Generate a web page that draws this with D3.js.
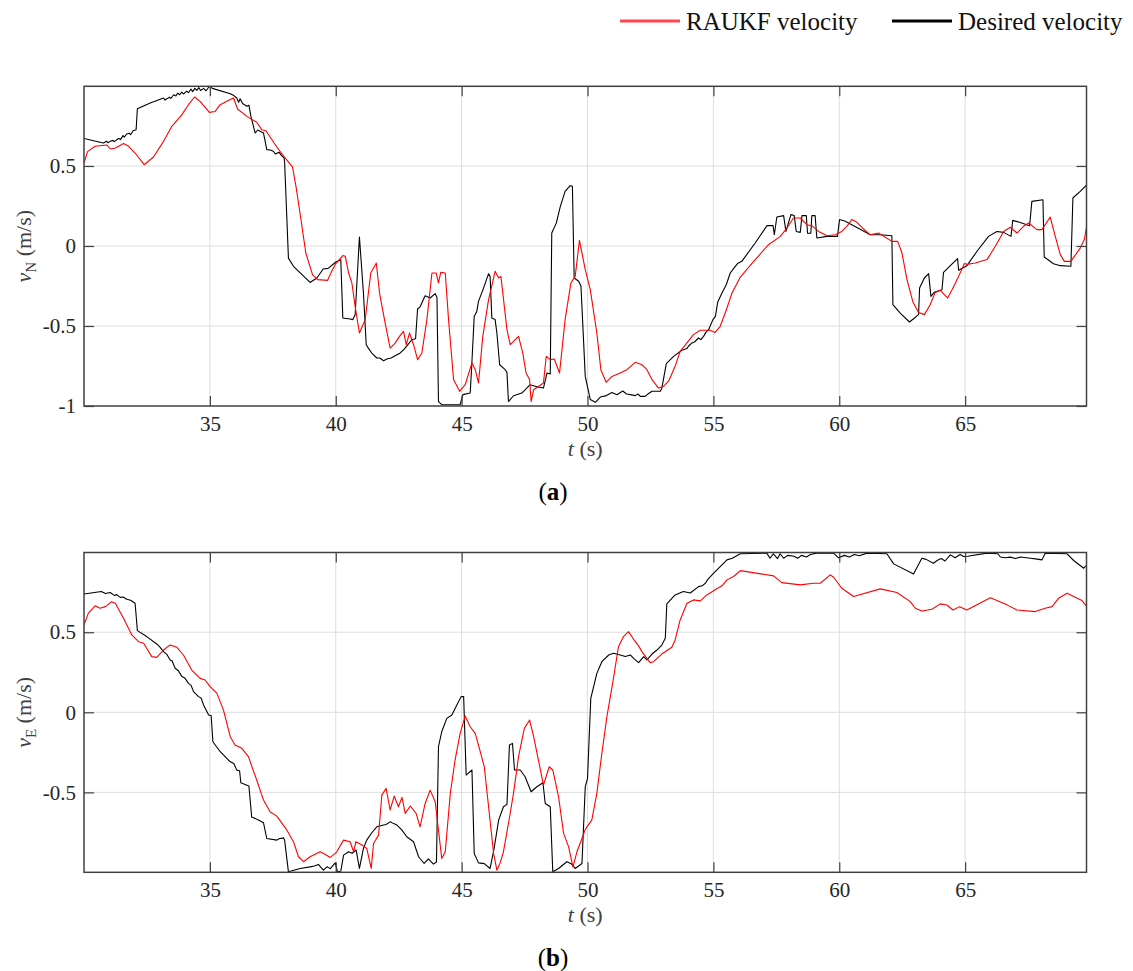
<!DOCTYPE html>
<html>
<head>
<meta charset="utf-8">
<script src="https://cdn.jsdelivr.net/npm/d3@7"></script>
<style>
  body { margin: 0; background: #fff; }
  svg { display: block; }
  svg text { font-family: "Liberation Serif", "DejaVu Serif", serif; }
</style>
</head>
<body>
<script>
// Time axis ticks shared by both panels
const timeTicks = [35, 40, 45, 50, 55, 60, 65];
const velTicks = [-1, -0.5, 0, 0.5];
const seriesNames = ["RAUKF velocity", "Desired velocity"];

// Panel (a): north velocity [t, v]
const desiredN = [[30.0,0.672],[30.77,0.644],[30.9,0.655],[30.95,0.645],[31.04,0.654],[31.15,0.66],[31.2,0.652],[31.37,0.672],[31.45,0.665],[31.55,0.69],[31.6,0.68],[31.7,0.70],[31.8,0.705],[31.85,0.695],[31.95,0.72],[32.07,0.727],[32.12,0.858],[32.63,0.894],[33.16,0.925],[33.22,0.912],[33.29,0.92],[33.4,0.93],[33.45,0.922],[33.56,0.945],[33.65,0.938],[33.72,0.955],[33.8,0.945],[33.88,0.962],[33.95,0.95],[34.08,0.968],[34.15,0.958],[34.25,0.98],[34.32,0.965],[34.4,0.985],[34.48,0.972],[34.56,0.99],[34.63,0.972],[34.75,0.985],[34.85,0.97],[34.98,0.998],[35.1,0.985],[35.81,0.952],[35.95,0.94],[36.07,0.925],[36.14,0.898],[36.2,0.92],[36.3,0.89],[36.47,0.873],[36.55,0.88],[36.63,0.81],[36.8,0.706],[36.9,0.725],[37.13,0.706],[37.26,0.602],[37.4,0.6],[37.52,0.592],[37.6,0.575],[37.66,0.58],[37.75,0.585],[37.85,0.565],[37.95,0.55],[37.97,0.519],[38.12,-0.076],[38.32,-0.127],[38.98,-0.228],[39.25,-0.2],[39.5,-0.144],[39.7,-0.14],[40.0,-0.10],[40.2,-0.086],[40.28,-0.45],[40.57,-0.456],[40.68,-0.46],[40.77,-0.43],[40.94,0.056],[41.1,-0.294],[41.21,-0.617],[41.3,-0.64],[41.43,-0.669],[41.5,-0.68],[41.63,-0.70],[41.75,-0.70],[41.9,-0.717],[42.05,-0.705],[42.2,-0.70],[42.43,-0.68],[42.55,-0.67],[42.72,-0.645],[42.85,-0.62],[43.02,-0.586],[43.17,-0.58],[43.25,-0.394],[43.35,-0.38],[43.55,-0.311],[43.75,-0.325],[43.95,-0.298],[44.02,-0.32],[44.08,-0.972],[44.21,-0.992],[44.94,-0.992],[45.05,-0.929],[45.34,-0.919],[45.4,-0.75],[45.5,-0.44],[45.6,-0.41],[45.67,-0.346],[45.87,-0.263],[46.07,-0.173],[46.13,-0.19],[46.2,-0.45],[46.33,-0.46],[46.4,-0.544],[46.51,-0.742],[46.73,-0.773],[46.8,-0.79],[46.86,-0.972],[47.06,-0.936],[47.39,-0.919],[47.72,-0.867],[47.99,-0.88],[48.25,-0.888],[48.39,-0.794],[48.52,-0.80],[48.58,0.081],[48.76,0.143],[48.92,0.248],[49.11,0.341],[49.31,0.377],[49.4,0.373],[49.47,-0.2],[49.65,-0.22],[49.74,-0.252],[49.91,-0.815],[50.11,-0.96],[50.31,-0.977],[50.51,-0.944],[50.75,-0.935],[50.97,-0.915],[51.17,-0.93],[51.4,-0.906],[51.55,-0.925],[51.7,-0.929],[51.9,-0.935],[52.0,-0.925],[52.1,-0.94],[52.29,-0.94],[52.4,-0.925],[52.56,-0.908],[52.89,-0.908],[52.95,-0.89],[53.13,-0.735],[53.42,-0.69],[53.75,-0.652],[53.95,-0.64],[54.02,-0.625],[54.15,-0.606],[54.25,-0.60],[54.41,-0.575],[54.5,-0.585],[54.61,-0.565],[54.7,-0.54],[54.81,-0.523],[54.98,-0.46],[55.08,-0.44],[55.17,-0.352],[55.34,-0.294],[55.51,-0.242],[55.67,-0.169],[55.87,-0.127],[55.96,-0.11],[56.13,-0.096],[56.66,0.019],[57.13,0.127],[57.37,0.127],[57.42,0.07],[57.52,0.181],[57.79,0.19],[57.88,0.091],[58.08,0.196],[58.21,0.19],[58.29,0.091],[58.45,0.085],[58.52,0.19],[58.69,0.19],[58.74,0.08],[58.87,0.08],[58.91,0.19],[59.04,0.19],[59.11,0.05],[59.51,0.06],[59.93,0.06],[60.01,0.165],[60.24,0.154],[61.23,0.07],[61.63,0.07],[62.09,0.064],[62.13,-0.367],[62.42,-0.419],[62.79,-0.475],[62.95,-0.455],[63.15,-0.429],[63.19,-0.262],[63.38,-0.2],[63.55,-0.173],[63.64,-0.315],[63.77,-0.29],[64.08,-0.273],[64.14,-0.165],[64.41,-0.123],[64.7,-0.079],[64.74,-0.152],[65.07,-0.123],[65.47,-0.033],[65.93,0.06],[66.26,0.091],[66.53,0.085],[66.82,0.06],[66.89,0.16],[67.16,0.148],[67.56,0.127],[67.65,0.279],[68.09,0.289],[68.14,-0.069],[68.51,-0.111],[68.78,-0.123],[69.2,-0.127],[69.28,0.30],[69.57,0.341],[69.84,0.383]];

const raukfN = [[30.0,0.518],[30.14,0.59],[30.44,0.623],[30.91,0.631],[31.04,0.606],[31.25,0.612],[31.57,0.64],[31.75,0.625],[32.03,0.581],[32.39,0.508],[32.76,0.556],[33.16,0.654],[33.49,0.748],[33.89,0.821],[34.15,0.883],[34.39,0.931],[34.61,0.904],[34.98,0.835],[35.21,0.841],[35.41,0.883],[35.81,0.915],[35.94,0.925],[36.1,0.856],[36.47,0.81],[36.86,0.773],[37.06,0.727],[37.23,0.72],[37.55,0.644],[37.88,0.571],[38.28,0.494],[38.42,0.373],[38.62,0.164],[38.81,-0.044],[39.08,-0.18],[39.28,-0.21],[39.67,-0.215],[39.87,-0.148],[40.0,-0.11],[40.28,-0.06],[40.38,-0.065],[40.51,-0.169],[40.64,-0.231],[40.77,-0.377],[40.94,-0.544],[41.17,-0.46],[41.39,-0.169],[41.61,-0.106],[41.74,-0.294],[41.96,-0.481],[42.16,-0.638],[42.36,-0.607],[42.53,-0.565],[42.69,-0.534],[42.8,-0.617],[42.93,-0.544],[43.09,-0.617],[43.25,-0.71],[43.42,-0.669],[43.62,-0.46],[43.82,-0.169],[43.99,-0.169],[44.08,-0.231],[44.17,-0.165],[44.35,-0.169],[44.48,-0.46],[44.68,-0.835],[44.92,-0.908],[45.14,-0.867],[45.41,-0.731],[45.54,-0.773],[45.67,-0.856],[45.84,-0.565],[46.07,-0.335],[46.33,-0.158],[46.47,-0.2],[46.56,-0.19],[46.8,-0.523],[46.93,-0.617],[47.26,-0.565],[47.43,-0.669],[47.56,-0.794],[47.7,-0.835],[47.76,-0.972],[47.86,-0.898],[48.25,-0.856],[48.36,-0.69],[48.52,-0.71],[48.68,-0.706],[48.89,-0.794],[49.11,-0.46],[49.34,-0.231],[49.51,-0.19],[49.68,0.035],[49.91,-0.148],[50.11,-0.273],[50.37,-0.544],[50.53,-0.773],[50.74,-0.852],[50.97,-0.815],[51.3,-0.794],[51.56,-0.773],[51.9,-0.727],[52.16,-0.742],[52.36,-0.773],[52.56,-0.835],[52.82,-0.888],[53.02,-0.877],[53.22,-0.845],[53.48,-0.752],[53.68,-0.658],[53.95,-0.606],[54.21,-0.554],[54.48,-0.527],[54.87,-0.527],[55.07,-0.54],[55.27,-0.502],[55.47,-0.419],[55.74,-0.294],[56.07,-0.194],[56.6,-0.096],[57.19,0.008],[57.66,0.06],[57.92,0.112],[58.18,0.175],[58.45,0.175],[58.72,0.133],[58.91,0.127],[59.18,0.091],[59.51,0.064],[59.84,0.07],[60.1,0.091],[60.3,0.123],[60.5,0.165],[60.7,0.148],[60.97,0.106],[61.23,0.07],[61.56,0.081],[62.09,0.029],[62.32,0.029],[62.49,-0.044],[62.69,-0.21],[62.93,-0.352],[63.15,-0.415],[63.38,-0.429],[63.61,-0.367],[63.81,-0.29],[64.01,-0.277],[64.3,-0.325],[64.48,-0.273],[64.74,-0.19],[64.97,-0.11],[65.08,-0.115],[65.4,-0.106],[65.87,-0.085],[66.2,-0.002],[66.53,0.091],[66.79,0.117],[67.06,0.081],[67.32,0.123],[67.52,0.144],[67.85,0.102],[68.05,0.102],[68.38,0.181],[68.58,0.06],[68.78,-0.054],[68.94,-0.096],[69.2,-0.096],[69.57,-0.013],[69.73,0.039],[69.84,0.133]];

// Panel (b): east velocity [t, v]
const desiredE = [[30.0,0.739],[30.69,0.754],[30.85,0.742],[31.04,0.748],[31.2,0.73],[31.3,0.735],[31.44,0.718],[31.55,0.72],[31.7,0.706],[31.85,0.70],[32.03,0.681],[32.12,0.51],[32.49,0.473],[32.89,0.427],[33.0,0.41],[33.16,0.379],[33.3,0.36],[33.42,0.327],[33.5,0.32],[33.62,0.275],[33.75,0.26],[33.89,0.223],[34.0,0.215],[34.15,0.181],[34.25,0.17],[34.35,0.129],[34.55,0.098],[34.65,0.09],[34.75,0.046],[34.95,-0.017],[35.05,-0.02],[35.12,-0.184],[35.41,-0.246],[35.81,-0.309],[35.95,-0.32],[36.07,-0.361],[36.18,-0.365],[36.23,-0.44],[36.47,-0.455],[36.55,-0.46],[36.66,-0.653],[36.93,-0.673],[37.13,-0.69],[37.26,-0.788],[37.66,-0.798],[37.75,-0.79],[37.93,-0.784],[37.97,-0.80],[38.12,-0.996],[38.59,-0.975],[38.98,-0.965],[39.15,-0.96],[39.31,-0.95],[39.42,-0.97],[39.51,-0.986],[39.65,-0.965],[39.78,-0.976],[39.98,-0.94],[40.07,-0.996],[40.2,-0.992],[40.31,-0.892],[40.51,-0.871],[40.65,-0.88],[40.81,-0.86],[40.94,-0.975],[41.1,-0.85],[41.23,-0.798],[41.43,-0.752],[41.63,-0.715],[41.9,-0.704],[42.0,-0.70],[42.16,-0.684],[42.3,-0.695],[42.43,-0.704],[42.63,-0.736],[42.82,-0.777],[43.09,-0.808],[43.29,-0.902],[43.51,-0.944],[43.68,-0.915],[43.88,-0.948],[44.0,-0.935],[44.08,-0.215],[44.21,-0.121],[44.41,-0.038],[44.61,-0.017],[44.81,0.045],[44.98,0.098],[45.08,0.098],[45.18,-0.392],[45.41,-0.36],[45.5,-0.881],[45.67,-0.94],[45.9,-0.945],[46.13,-0.975],[46.29,-0.85],[46.47,-0.673],[46.66,-0.59],[46.8,-0.575],[46.9,-0.204],[47.02,-0.194],[47.1,-0.36],[47.33,-0.36],[47.52,-0.402],[47.76,-0.496],[47.99,-0.465],[48.23,-0.44],[48.32,-0.569],[48.52,-0.59],[48.62,-0.996],[48.85,-0.975],[49.18,-0.933],[49.35,-0.945],[49.51,-0.975],[49.78,-0.944],[49.91,-0.465],[50.0,-0.413],[50.13,0.087],[50.37,0.243],[50.57,0.316],[50.84,0.358],[51.03,0.369],[51.3,0.358],[51.5,0.348],[51.7,0.358],[51.83,0.337],[52.03,0.31],[52.23,0.348],[52.36,0.327],[52.56,0.364],[52.76,0.389],[52.95,0.42],[53.09,0.462],[53.15,0.677],[53.48,0.733],[53.81,0.754],[54.08,0.745],[54.41,0.785],[54.55,0.79],[54.68,0.806],[54.78,0.83],[55.01,0.869],[55.27,0.91],[55.54,0.952],[55.75,0.962],[56.07,0.99],[57.12,0.994],[57.25,0.962],[57.38,0.99],[57.55,0.96],[57.65,0.99],[57.79,0.962],[57.95,0.98],[58.2,0.975],[58.35,0.962],[58.5,0.98],[58.7,0.97],[58.85,0.985],[59.11,0.994],[59.77,0.994],[59.97,0.965],[60.2,0.98],[60.4,0.97],[60.6,0.985],[60.8,0.978],[61.1,0.994],[61.89,0.99],[62.16,0.927],[62.95,0.864],[63.0,0.88],[63.28,0.962],[63.45,0.955],[63.74,0.931],[63.9,0.95],[64.05,0.96],[64.2,0.945],[64.41,0.983],[64.6,0.965],[64.8,0.985],[64.94,0.973],[65.1,0.975],[65.87,0.994],[66.3,0.99],[66.4,0.97],[66.6,0.965],[66.79,0.969],[67.0,0.96],[67.2,0.97],[67.59,0.962],[67.8,0.958],[68.05,0.952],[68.18,0.994],[69.05,0.99],[69.31,0.948],[69.71,0.9],[69.84,0.921]];

const raukfE = [[30.0,0.545],[30.17,0.618],[30.44,0.665],[30.64,0.65],[30.85,0.66],[31.1,0.691],[31.25,0.68],[31.57,0.587],[31.9,0.483],[32.17,0.441],[32.37,0.431],[32.69,0.348],[32.89,0.343],[33.16,0.389],[33.42,0.421],[33.69,0.406],[33.95,0.358],[34.28,0.264],[34.61,0.212],[34.81,0.202],[35.01,0.16],[35.28,0.118],[35.54,0.014],[35.81,-0.152],[36.0,-0.204],[36.27,-0.225],[36.53,-0.277],[36.86,-0.423],[37.13,-0.548],[37.39,-0.621],[37.66,-0.648],[38.06,-0.736],[38.32,-0.808],[38.52,-0.902],[38.72,-0.933],[38.98,-0.902],[39.38,-0.871],[39.55,-0.885],[39.78,-0.906],[39.98,-0.881],[40.04,-0.871],[40.31,-0.798],[40.57,-0.808],[40.71,-0.871],[40.8,-0.808],[41.04,-0.829],[41.23,-0.85],[41.41,-0.975],[41.5,-0.819],[41.7,-0.767],[41.83,-0.517],[42.0,-0.475],[42.16,-0.61],[42.32,-0.523],[42.49,-0.59],[42.63,-0.531],[42.76,-0.631],[42.96,-0.585],[43.19,-0.631],[43.35,-0.715],[43.55,-0.569],[43.75,-0.486],[43.95,-0.558],[44.08,-0.736],[44.21,-0.913],[44.35,-0.871],[44.55,-0.506],[44.74,-0.298],[44.94,-0.131],[45.14,-0.023],[45.34,-0.09],[45.54,-0.131],[45.74,-0.246],[45.9,-0.34],[46.07,-0.59],[46.27,-0.881],[46.4,-0.986],[46.53,-0.94],[46.66,-0.871],[46.86,-0.694],[47.06,-0.506],[47.26,-0.277],[47.49,-0.1],[47.7,-0.048],[47.86,-0.152],[48.05,-0.298],[48.25,-0.454],[48.48,-0.34],[48.62,-0.36],[48.85,-0.527],[49.05,-0.756],[49.25,-0.84],[49.42,-0.965],[49.58,-0.871],[49.78,-0.788],[49.91,-0.731],[50.17,-0.673],[50.37,-0.506],[50.57,-0.256],[50.77,-0.027],[51.01,0.192],[51.23,0.41],[51.43,0.473],[51.63,0.504],[51.83,0.456],[52.03,0.415],[52.16,0.379],[52.49,0.31],[52.62,0.316],[52.95,0.364],[53.35,0.406],[53.48,0.452],[53.68,0.577],[53.95,0.681],[54.21,0.702],[54.48,0.696],[54.74,0.733],[55.07,0.765],[55.34,0.79],[55.54,0.827],[55.8,0.848],[56.07,0.885],[57.39,0.852],[57.72,0.81],[58.45,0.796],[58.98,0.806],[59.25,0.806],[59.64,0.858],[59.77,0.845],[60.1,0.775],[60.57,0.723],[61.63,0.771],[62.29,0.748],[62.82,0.691],[63.02,0.65],[63.28,0.633],[63.68,0.644],[64.01,0.677],[64.27,0.67],[64.52,0.639],[64.78,0.66],[65.07,0.639],[66.0,0.716],[66.66,0.671],[67.06,0.639],[67.79,0.629],[68.18,0.65],[68.45,0.66],[68.71,0.712],[69.05,0.744],[69.31,0.723],[69.64,0.698],[69.84,0.66]];

const width = 1133, height = 971;
const font = "Liberation Serif";

const svg = d3.select("body").append("svg")
    .attr("width", width)
    .attr("height", height)
    .attr("font-family", font);

const xScale = d3.scaleLinear().domain([30, 69.82]).range([84, 1086.5]);

// Legend, top right
const legend = svg.append("g");
[{ x: 620, color: "#ff4452", name: seriesNames[0] },
 { x: 892, color: "#000000", name: seriesNames[1] }].forEach(item => {
    legend.append("line")
        .attr("x1", item.x).attr("x2", item.x + 60)
        .attr("y1", 21).attr("y2", 21)
        .attr("stroke", item.color)
        .attr("stroke-width", 3.2);
    legend.append("text")
        .attr("x", item.x + 66)
        .attr("y", 30)
        .attr("font-family", font)
        .attr("font-size", "25px")
        .attr("fill", "#111")
        .text(item.name);
});

function drawPanel({ top, bottom, yDomain, desired, raukf, sub, caption }) {
    const yScale = d3.scaleLinear().domain(yDomain).range([bottom, top]);
    const [x0, x1] = xScale.range();
    const g = svg.append("g");
    const clipId = "clip-" + sub;

    g.append("clipPath").attr("id", clipId)
        .append("rect")
        .attr("x", x0).attr("y", top)
        .attr("width", x1 - x0).attr("height", bottom - top);

    // Grid
    g.append("g")
        .selectAll("line")
        .data(timeTicks)
        .join("line")
        .attr("x1", d => xScale(d)).attr("x2", d => xScale(d))
        .attr("y1", top).attr("y2", bottom)
        .attr("stroke", "#dedede").attr("stroke-width", 1);
    g.append("g")
        .selectAll("line")
        .data(velTicks.filter(v => v > yDomain[0]))
        .join("line")
        .attr("x1", x0).attr("x2", x1)
        .attr("y1", d => yScale(d)).attr("y2", d => yScale(d))
        .attr("stroke", "#dedede").attr("stroke-width", 1);

    // Lines
    const line = d3.line()
        .x(d => xScale(d[0]))
        .y(d => yScale(d[1]));

    const lines = g.append("g").attr("clip-path", `url(#${clipId})`);
    lines.append("path")
        .datum(desired)
        .attr("fill", "none")
        .attr("stroke", "#000")
        .attr("stroke-width", 1.1)
        .attr("stroke-linejoin", "round")
        .attr("d", line);
    lines.append("path")
        .datum(raukf)
        .attr("fill", "none")
        .attr("stroke", "#ff0000")
        .attr("stroke-width", 1.1)
        .attr("stroke-linejoin", "round")
        .attr("d", line);

    // Axes with inward ticks on all four sides
    const axisColor = "#404040";
    const yTickValues = velTicks.filter(v => v >= yDomain[0]);
    const bottomAxis = g.append("g")
        .attr("transform", `translate(0,${bottom})`)
        .call(d3.axisBottom(xScale).tickValues(timeTicks).tickSizeInner(-10).tickSizeOuter(0).tickPadding(10));
    const topAxis = g.append("g")
        .attr("transform", `translate(0,${top})`)
        .call(d3.axisTop(xScale).tickValues(timeTicks).tickSizeInner(-10).tickSizeOuter(0).tickFormat(""));
    const leftAxis = g.append("g")
        .attr("transform", `translate(${x0},0)`)
        .call(d3.axisLeft(yScale).tickValues(yTickValues).tickSizeInner(-10).tickSizeOuter(0).tickPadding(8)
            .tickFormat(d => String(d).replace("\u2212", "-")));
    const rightAxis = g.append("g")
        .attr("transform", `translate(${x1},0)`)
        .call(d3.axisRight(yScale).tickValues(yTickValues).tickSizeInner(-10).tickSizeOuter(0).tickFormat(""));

    [bottomAxis, topAxis, leftAxis, rightAxis].forEach(a => {
        a.attr("font-family", font).attr("font-size", 21);
        a.select(".domain").remove();
        a.selectAll(".tick line").attr("stroke", axisColor).attr("stroke-width", 1.2);
        a.selectAll(".tick text").attr("fill", "#262626");
    });

    // Box
    g.append("rect")
        .attr("x", x0).attr("y", top)
        .attr("width", x1 - x0).attr("height", bottom - top)
        .attr("fill", "none")
        .attr("stroke", axisColor)
        .attr("stroke-width", 1.5);

    // Y label
    const yLabel = g.append("text")
        .attr("transform", `translate(31,${(top + bottom) / 2}) rotate(-90)`)
        .attr("text-anchor", "middle")
        .attr("font-family", font)
        .attr("font-size", "22px")
        .attr("fill", "#404040");
    yLabel.append("tspan").attr("font-style", "italic").text("v");
    yLabel.append("tspan").attr("font-size", "15px").attr("dy", 5).text(sub);
    yLabel.append("tspan").attr("dy", -5).text(" (m/s)");

    // X label
    const xLabel = g.append("text")
        .attr("x", (x0 + x1) / 2)
        .attr("y", bottom + 50)
        .attr("text-anchor", "middle")
        .attr("font-family", font)
        .attr("font-size", "22px")
        .attr("fill", "#404040");
    xLabel.append("tspan").attr("font-style", "italic").text("t");
    xLabel.append("tspan").text(" (s)");

    // Caption
    const cap = g.append("text")
        .attr("x", 553)
        .attr("y", bottom + 94)
        .attr("text-anchor", "middle")
        .attr("font-family", font)
        .attr("font-size", "25px")
        .attr("fill", "#000");
    cap.append("tspan").text("(");
    cap.append("tspan").attr("font-weight", "bold").text(caption);
    cap.append("tspan").text(")");
}

drawPanel({ top: 86.3, bottom: 406, yDomain: [-1, 0.998], desired: desiredN, raukf: raukfN, sub: "N", caption: "a" });
drawPanel({ top: 552.5, bottom: 872.3, yDomain: [-0.999, 0.998], desired: desiredE, raukf: raukfE, sub: "E", caption: "b" });
</script>
</body>
</html>
